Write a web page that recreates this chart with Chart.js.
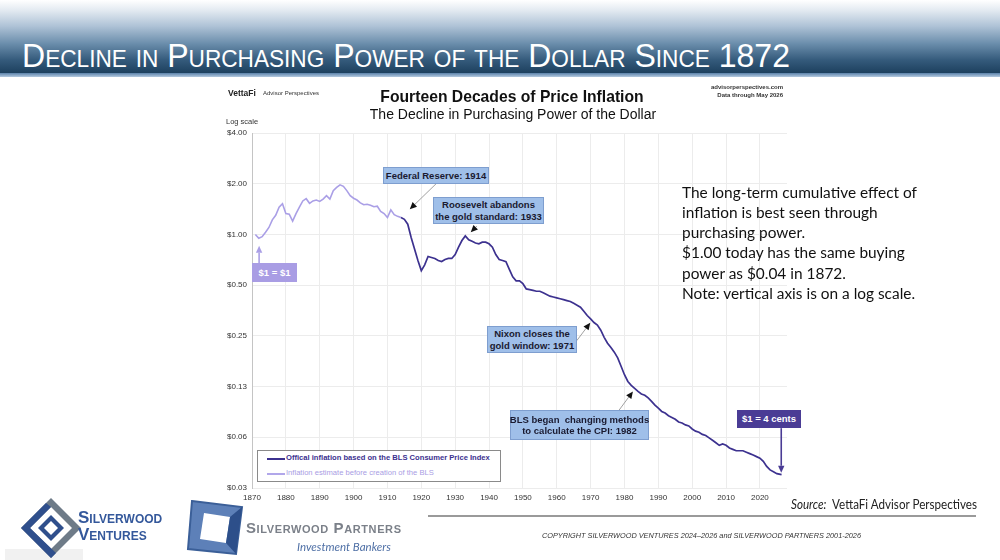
<!DOCTYPE html>
<html><head><meta charset="utf-8">
<script src="https://cdn.jsdelivr.net/npm/chart.js@4.4.1/dist/chart.umd.min.js"></script>
<style>
html,body{margin:0;padding:0;background:#fff;}
#page{position:relative;width:1000px;height:560px;overflow:hidden;background:#fff;font-family:"Liberation Sans",Arial,sans-serif;}
#hdr{position:absolute;left:0;top:0;width:1000px;height:73px;background:linear-gradient(to bottom,#ffffff 0%,#e3eaf1 14%,#aec2d6 36%,#6a8dab 60%,#355b7c 82%,#1d405e 100%);}
#hdrline{position:absolute;left:0;top:73px;width:1000px;height:4px;background:linear-gradient(to bottom,#5b82aa,#b3c9df);}
#title{position:absolute;left:22px;top:35px;color:#fff;font-family:"Liberation Sans Narrow","Liberation Sans",Arial,sans-serif;font-size:34px;font-variant:small-caps;white-space:nowrap;transform-origin:0 0;line-height:40px;}
#chart{position:absolute;left:0;top:0;z-index:1;}
.abs{position:absolute;white-space:nowrap;z-index:2;}
.ann{position:absolute;z-index:3;background:#9fbfe9;border:1px solid #7e9ecf;color:#1a1a30;font-weight:bold;font-size:9.5px;text-align:center;line-height:11.5px;display:flex;align-items:center;justify-content:center;box-sizing:border-box;white-space:nowrap;}
.note{position:absolute;left:682px;font-family:Lato,"Open Sans",sans-serif;font-size:15.5px;color:#111;white-space:nowrap;transform-origin:0 0;z-index:2;}
</style></head>
<body><div id="page">
<div id="hdr"></div><div id="hdrline"></div>
<div id="title">Decline in Purchasing Power of the Dollar Since 1872</div>

<canvas id="chart" width="1000" height="560"></canvas>

<div class="abs" style="left:228px;top:88px;font-size:8.5px;font-weight:bold;color:#222;">VettaFi</div>
<div class="abs" style="left:263px;top:90px;font-size:6px;color:#333;">Advisor Perspectives</div>
<div class="abs" id="ct" style="left:512px;top:88px;font-size:15.7px;font-weight:bold;color:#111;transform:translateX(-50%);">Fourteen Decades of Price Inflation</div>
<div class="abs" id="cs" style="left:513px;top:106px;font-size:14px;color:#111;transform:translateX(-50%);">The Decline in Purchasing Power of the Dollar</div>
<div class="abs" style="left:783px;top:83px;font-size:6px;font-weight:bold;color:#333;transform:translateX(-100%);text-align:right;line-height:8px;">advisorperspectives.com<br>Data through May 2026</div>
<div class="abs" style="left:226px;top:117px;font-size:7.5px;color:#333;">Log scale</div>

<div class="ann" style="left:383px;top:167px;width:106px;height:17px;">Federal Reserve: 1914</div>
<div class="ann" style="left:433px;top:197px;width:111px;height:27px;">Roosevelt abandons<br>the gold standard: 1933</div>
<div class="ann" style="left:487px;top:326px;width:90px;height:27px;">Nixon closes the<br>gold window: 1971</div>
<div class="ann" style="left:510px;top:410px;width:139px;height:30px;">BLS began&nbsp; changing methods<br>to calculate the CPI: 1982</div>
<div class="ann" style="left:737px;top:410px;width:64px;height:18px;background:#4a3c95;border-color:#4a3c95;color:#fff;">$1 = 4 cents</div>
<div class="ann" style="left:252px;top:263px;width:45px;height:19px;background:#a99de4;border-color:#a99de4;color:#fff;">$1 = $1</div>

<div class="abs" style="left:257px;top:450px;width:244px;height:32px;border:1.5px solid #8a8a8a;background:#fff;box-sizing:border-box;z-index:3;">
  <div style="position:absolute;left:9px;top:7px;width:18px;height:2px;background:#3c318f;"></div>
  <div style="position:absolute;left:28px;top:2px;font-size:7.6px;font-weight:bold;color:#3c318f;">Offical inflation based on the BLS Consumer Price Index</div>
  <div style="position:absolute;left:9px;top:22px;width:18px;height:1.5px;background:#b1a7ea;"></div>
  <div style="position:absolute;left:28px;top:17px;font-size:7.6px;color:#a99de4;">Inflation estimate before creation of the BLS</div>
</div>

<div class="note" id="n1" style="top:183px;">The long-term cumulative effect of</div>
<div class="note" id="n2" style="top:203px;">inflation is best seen through</div>
<div class="note" id="n3" style="top:223px;">purchasing power.</div>
<div class="note" id="n4" style="top:243px;">$1.00 today has the same buying</div>
<div class="note" id="n5" style="top:264px;">power as $0.04 in 1872.</div>
<div class="note" id="n6" style="top:284px;">Note: vertical axis is on a log scale.</div>

<div class="abs" id="src" style="left:791px;top:496px;font-family:Lato,'Open Sans',sans-serif;font-size:13px;color:#222;transform-origin:0 0;"><i>Source:</i>&nbsp; VettaFi Advisor Perspectives</div>
<div class="abs" style="left:428px;top:515px;width:548px;height:1.5px;background:#9a9a9a;"></div>
<div class="abs" id="copy" style="left:542px;top:531px;font-size:8px;font-style:italic;color:#333;transform-origin:0 0;">COPYRIGHT SILVERWOOD VENTURES 2024–2026 and SILVERWOOD PARTNERS 2001-2026</div>

<div class="abs" style="left:5px;top:549px;width:78px;height:11px;background:#f1f1f1;"></div>
<svg class="abs" style="left:18px;top:495px;" width="66" height="66" viewBox="0 0 66 66">
  <polygon points="33,3 63,33 33,63 3,33" fill="#6e7b88"/>
  <polygon points="33,12 54,33 33,54 12,33" fill="#ffffff"/>
  <polygon points="3,33 33,63 38,58 12,33 33,12 28,8" fill="#2f4f8c"/>
  <polygon points="33,20 46,33 33,46 20,33" fill="#2f4f8c"/>
  <polygon points="33,26 40,33 33,40 26,33" fill="#ffffff"/>
</svg>
<div class="abs" style="left:78px;top:509px;font-size:17px;font-weight:bold;color:#34589b;font-variant:small-caps;line-height:17px;">Silverwood<br>Ventures</div>
<svg class="abs" style="left:186px;top:499px;" width="58" height="57" viewBox="0 0 58 57">
  <polygon points="6,2 56,8 50,55 2,50" fill="#5d80b8"/>
  <polygon points="6,2 56,8 50,55 2,50" fill="none" stroke="#3b5f98" stroke-width="2"/>
  <polygon points="18,14 44,18 40,44 14,40" fill="#ffffff"/>
  <polygon points="44,18 40,44 50,55 56,8" fill="#2d4f8a"/>
</svg>
<div class="abs" style="left:246px;top:519px;font-size:15px;font-weight:bold;color:#7b8089;font-variant:small-caps;letter-spacing:0.6px;">Silverwood Partners</div>
<div class="abs" style="left:297px;top:540px;font-size:11.5px;font-style:italic;color:#4e6fa5;font-family:Lato,'Open Sans',sans-serif;">Investment Bankers</div>
</div>

<script>
// ---------------- DATA ----------------
const preYears  = [1871,1872,1873,1874,1875,1876,1877,1878,1879,1880,1881,1882,1883,1884,1885,1886,1887,1888,1889,1890,1891,1892,1893,1894,1895,1896,1897,1898,1899,1900,1901,1902,1903,1904,1905,1906,1907,1908,1909,1910,1911,1912,1913,1914];
const preValues = [1.00,0.95,0.97,1.03,1.10,1.22,1.30,1.45,1.52,1.33,1.32,1.20,1.33,1.45,1.58,1.63,1.53,1.58,1.60,1.57,1.62,1.70,1.62,1.82,1.90,1.97,1.93,1.82,1.70,1.64,1.60,1.54,1.50,1.51,1.49,1.46,1.47,1.37,1.33,1.26,1.40,1.31,1.28,1.26];

const blsYears  = [1914,1915,1916,1917,1918,1919,1920,1921,1922,1923,1924,1925,1926,1927,1928,1929,1930,1931,1932,1933,1934,1935,1936,1937,1938,1939,1940,1941,1942,1943,1944,1945,1946,1947,1948,1949,1950,1951,1952,1953,1954,1955,1956,1957,1958,1959,1960,1961,1962,1963,1964,1965,1966,1967,1968,1969,1970,1971,1972,1973,1974,1975,1976,1977,1978,1979,1980,1981,1982,1983,1984,1985,1986,1987,1988,1989,1990,1991,1992,1993,1994,1995,1996,1997,1998,1999,2000,2001,2002,2003,2004,2005,2006,2007,2008,2009,2010,2011,2012,2013,2014,2015,2016,2017,2018,2019,2020,2021,2022,2023,2024,2025,2026.4];
const blsValues = [1.26,1.23,1.15,0.96,0.82,0.70,0.61,0.66,0.74,0.73,0.72,0.70,0.69,0.71,0.72,0.72,0.76,0.84,0.92,0.98,0.93,0.91,0.89,0.88,0.90,0.90,0.88,0.84,0.76,0.71,0.70,0.69,0.62,0.56,0.53,0.53,0.51,0.475,0.47,0.465,0.46,0.46,0.45,0.44,0.43,0.425,0.42,0.415,0.41,0.405,0.40,0.39,0.38,0.37,0.35,0.33,0.315,0.30,0.29,0.27,0.245,0.226,0.213,0.20,0.185,0.165,0.147,0.134,0.127,0.122,0.117,0.113,0.111,0.107,0.102,0.097,0.093,0.089,0.087,0.084,0.082,0.080,0.077,0.076,0.074,0.073,0.070,0.068,0.067,0.065,0.064,0.062,0.060,0.058,0.056,0.057,0.056,0.054,0.053,0.052,0.052,0.052,0.051,0.050,0.049,0.048,0.047,0.045,0.042,0.040,0.039,0.038,0.0375];

const xTickYears  = [1870,1880,1890,1900,1910,1920,1930,1940,1950,1960,1970,1980,1990,2000,2010,2020];
const yTickValues = [0.03125,0.0625,0.125,0.25,0.5,1,2,4];
const yTickLabels = ['$0.03','$0.06','$0.13','$0.25','$0.50','$1.00','$2.00','$4.00'];

// annotation arrows in data space
const arrowTailYears = [1924.6, 1936.4, 1965.9, 1977.8, 2026.3, 1872.1];
const arrowTailVals  = [2.02,   1.12,   0.234,  0.0872, 0.0708, 0.676];
const arrowTipYears  = [1916.6, 1934.6, 1969.9, 1982.5, 2026.3, 1872.1];
const arrowTipVals   = [1.41,   1.03,   0.299,  0.117,  0.0385, 0.857];
const arrowStyles    = ['gray','gray','gray','gray','dark','light'];

// ---------------- CHART ----------------
const toXY = (xs, ys) => xs.map((x, i) => ({x: x, y: ys[i]}));
const DARK = '#3c318f', LIGHT = '#aa9fe6';

const arrowPlugin = {
  id: 'arrows',
  afterDatasetsDraw(chart) {
    const c = chart.ctx, xs = chart.scales.x, ys = chart.scales.y;
    for (let i = 0; i < arrowTailYears.length; i++) {
      const x1 = xs.getPixelForValue(arrowTailYears[i]), y1 = ys.getPixelForValue(arrowTailVals[i]);
      const x2 = xs.getPixelForValue(arrowTipYears[i]),  y2 = ys.getPixelForValue(arrowTipVals[i]);
      const st = arrowStyles[i];
      const shaft = st === 'gray' ? '#a0a0a0' : (st === 'dark' ? '#4a3c95' : LIGHT);
      const head  = st === 'gray' ? '#111111' : shaft;
      const ang = Math.atan2(y2 - y1, x2 - x1), L = 7, W = 3.2;
      const bx = x2 - L * Math.cos(ang), by = y2 - L * Math.sin(ang);
      c.save();
      c.strokeStyle = shaft; c.lineWidth = st === 'gray' ? 1 : 1.6;
      c.beginPath(); c.moveTo(x1, y1); c.lineTo(bx, by); c.stroke();
      c.fillStyle = head;
      c.beginPath();
      c.moveTo(x2, y2);
      c.lineTo(bx + W * Math.sin(ang), by - W * Math.cos(ang));
      c.lineTo(bx - W * Math.sin(ang), by + W * Math.cos(ang));
      c.closePath(); c.fill();
      c.restore();
    }
  }
};

new Chart(document.getElementById('chart'), {
  type: 'line',
  data: {
    datasets: [
      {label: 'Inflation estimate before creation of the BLS', data: toXY(preYears, preValues),
       borderColor: LIGHT, borderWidth: 1.6, pointRadius: 0, tension: 0},
      {label: 'Offical inflation based on the BLS Consumer Price Index', data: toXY(blsYears, blsValues),
       borderColor: DARK, borderWidth: 1.7, pointRadius: 0, tension: 0}
    ]
  },
  options: {
    responsive: false, animation: false, devicePixelRatio: 1,
    layout: {padding: {left: 212, top: 133, right: 213, bottom: 52}},
    plugins: {legend: {display: false}, tooltip: {enabled: false}, title: {display: false}},
    scales: {
      x: {
        type: 'linear', min: 1870, max: 2028,
        afterBuildTicks: s => { s.ticks = xTickYears.map(v => ({value: v})); },
        afterFit: s => { s.height = 20; },
        ticks: {font: {family: 'Liberation Sans', size: 8}, color: '#333', padding: 5, maxRotation: 0, autoSkip: false,
                callback: v => String(v)},
        grid: {color: '#ececec', lineWidth: 1, drawTicks: false},
        border: {display: false}
      },
      y: {
        type: 'logarithmic', min: 0.03125, max: 4,
        afterBuildTicks: s => { s.ticks = yTickValues.map(v => ({value: v})); },
        afterFit: s => { s.width = 40; },
        ticks: {font: {family: 'Liberation Sans', size: 8}, color: '#333', padding: 5, autoSkip: false,
                callback: (v) => { const k = yTickValues.indexOf(v); return k >= 0 ? yTickLabels[k] : ''; }},
        grid: {color: '#ececec', lineWidth: 1, drawTicks: false},
        border: {display: true, color: '#c4c4c4', width: 1}
      }
    }
  },
  plugins: [arrowPlugin]
});

// fit a few texts to the reference widths
function fitW(id, w) {
  const el = document.getElementById(id);
  const r = el.getBoundingClientRect().width;
  if (r > 0) el.style.transform = (el.style.transform || '') + ' scaleX(' + (w / r) + ')';
}
fitW('title', 768);
fitW('n1', 235);
['n2','n3','n4','n5','n6'].forEach(id => {
  const el = document.getElementById(id);
  el.style.transform = document.getElementById('n1').style.transform;
});
fitW('src', 186);
fitW('copy', 319);
</script>
</body></html>
